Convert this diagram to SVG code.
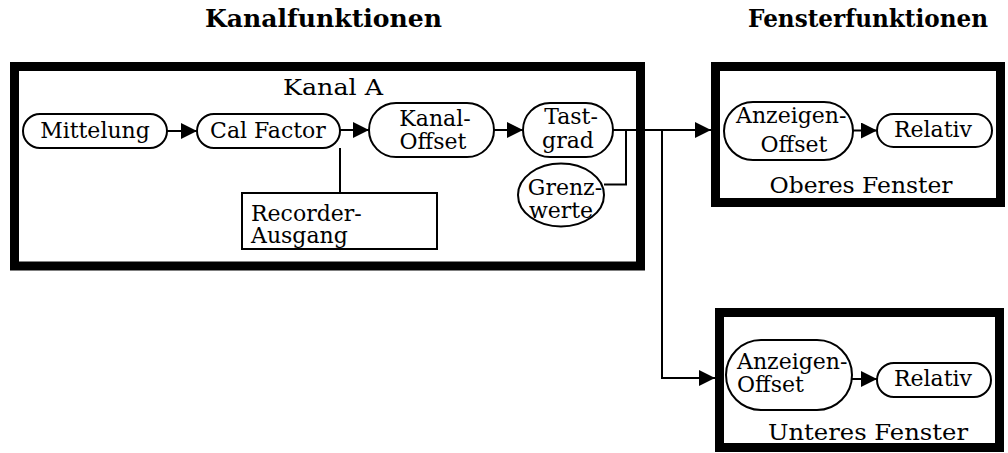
<svg xmlns="http://www.w3.org/2000/svg" width="1008" height="453" viewBox="0 0 1008 453">
<style>
text{font-family:"DejaVu Serif","Liberation Serif",serif;font-size:22px;fill:#000}
.h{font-weight:bold;font-size:24px}
.t{font-size:23px}
.m{text-anchor:middle}
.frame{fill:#fff;stroke:#000;stroke-width:9}
.node{fill:#fff;stroke:#000;stroke-width:2}
.con{fill:none;stroke:#000;stroke-width:2}
</style>
<defs>
<marker id="ah" markerUnits="userSpaceOnUse" markerWidth="17" markerHeight="17" refX="16" refY="8" orient="auto">
<path d="M0,0 L16,8 L0,16 z" fill="#000"/>
</marker>
</defs>
<rect width="1008" height="453" fill="#fff"/>
<text class="h m" x="323.5" y="27" textLength="237" lengthAdjust="spacingAndGlyphs">Kanalfunktionen</text>
<text class="h m" x="868" y="27" textLength="240" lengthAdjust="spacingAndGlyphs">Fensterfunktionen</text>

<g id="kanalA">
<rect class="frame" x="14.5" y="66.5" width="626" height="199.5"/>
<text class="m t" x="333" y="95" textLength="100" lengthAdjust="spacingAndGlyphs">Kanal A</text>
</g>
<g id="oberesFenster">
<rect class="frame" x="715.5" y="66.5" width="285" height="136"/>
<text class="m t" x="861" y="193" textLength="183" lengthAdjust="spacingAndGlyphs">Oberes Fenster</text>
</g>
<g id="unteresFenster">
<rect class="frame" x="719.5" y="312.5" width="280" height="135"/>
<text class="m t" x="868" y="440" textLength="200" lengthAdjust="spacingAndGlyphs">Unteres Fenster</text>
</g>

<g id="connectors">
<line class="con" x1="167" y1="131" x2="197" y2="131" marker-end="url(#ah)"/>
<line class="con" x1="340" y1="130" x2="369" y2="130" marker-end="url(#ah)"/>
<line class="con" x1="340" y1="148" x2="340" y2="193"/>
<line class="con" x1="494" y1="130" x2="523" y2="130" marker-end="url(#ah)"/>
<line class="con" x1="613" y1="130" x2="711" y2="130" marker-end="url(#ah)"/>
<path class="con" d="M604,184.5 H626 V130"/>
<path class="con" d="M662,130 V378 H715" marker-end="url(#ah)"/>
<line class="con" x1="853" y1="130.5" x2="877" y2="130.5" marker-end="url(#ah)"/>
<line class="con" x1="852" y1="379" x2="877" y2="379" marker-end="url(#ah)"/>
</g>

<g id="mittelung">
<rect class="node" x="23" y="114" width="144" height="34" rx="17"/>
<text class="m" x="95" y="138">Mittelung</text>
</g>
<g id="calFactor">
<rect class="node" x="197" y="114" width="143" height="34" rx="17"/>
<text class="m" x="268" y="138">Cal Factor</text>
</g>
<g id="recorder">
<rect class="node" x="242" y="193" width="195" height="56"/>
<text x="251" y="221">Recorder-</text>
<text x="251" y="243">Ausgang</text>
</g>
<g id="kanalOffset">
<rect class="node" x="369" y="103" width="125" height="54" rx="27"/>
<text class="m" x="435" y="126">Kanal-</text>
<text class="m" x="433" y="149">Offset</text>
</g>
<g id="tastgrad">
<rect class="node" x="523" y="103" width="90" height="54" rx="27"/>
<text class="m" x="571" y="124">Tast-</text>
<text class="m" x="568" y="148">grad</text>
</g>
<g id="grenzwerte">
<ellipse class="node" cx="561" cy="195" rx="43" ry="31.5"/>
<text class="m" x="565" y="195">Grenz-</text>
<text class="m" x="561" y="218">werte</text>
</g>
<g id="anzeigenOffsetOben">
<rect class="node" x="724" y="102" width="129" height="58" rx="29"/>
<text x="736" y="123">Anzeigen-</text>
<text class="m" x="794" y="152">Offset</text>
</g>
<g id="relativOben">
<rect class="node" x="877" y="114" width="115" height="33" rx="16.5"/>
<text class="m" x="933" y="137">Relativ</text>
</g>
<g id="anzeigenOffsetUnten">
<rect class="node" x="726" y="340" width="126" height="70" rx="35"/>
<text x="737" y="369">Anzeigen-</text>
<text x="737" y="392">Offset</text>
</g>
<g id="relativUnten">
<rect class="node" x="877" y="363" width="114" height="34" rx="17"/>
<text class="m" x="933" y="386">Relativ</text>
</g>
</svg>
